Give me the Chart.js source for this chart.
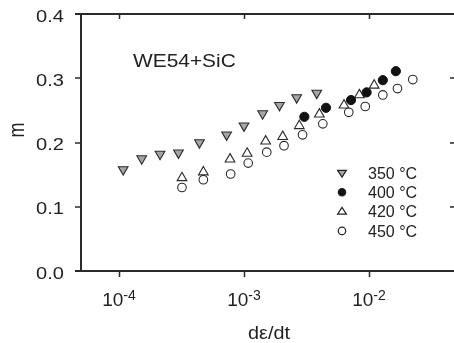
<!DOCTYPE html>
<html>
<head>
<meta charset="utf-8">
<script src="https://cdn.jsdelivr.net/npm/chart.js@4.4.1/dist/chart.umd.min.js"></script>
<style>
  html, body { margin: 0; padding: 0; background: #fff; }
  #wrap { width: 454px; height: 343px; }
</style>
</head>
<body>
<div id="wrap"><canvas id="grafico" width="454" height="343"></canvas></div>
<script>
// Data (strain rate, strain rate sensitivity m)
const rate350 = [1.08e-4, 1.52e-4, 2.13e-4, 2.99e-4, 4.40e-4, 7.26e-4, 1.00e-3, 1.41e-3, 1.92e-3, 2.64e-3, 3.82e-3];
const m350 = [0.158, 0.175, 0.182, 0.184, 0.200, 0.212, 0.226, 0.245, 0.258, 0.270, 0.277];

const rate400 = [3.04e-3, 4.53e-3, 7.18e-3, 9.57e-3, 1.29e-2, 1.64e-2];
const m400 = [0.240, 0.254, 0.266, 0.278, 0.297, 0.311];

const rate420 = [3.19e-4, 4.73e-4, 7.73e-4, 1.06e-3, 1.49e-3, 2.04e-3, 2.77e-3, 4.01e-3, 6.31e-3, 8.38e-3, 1.10e-2];
const m420 = [0.145, 0.154, 0.174, 0.183, 0.202, 0.209, 0.226, 0.244, 0.258, 0.274, 0.289];

const rate450 = [3.19e-4, 4.73e-4, 7.82e-4, 1.08e-3, 1.52e-3, 2.09e-3, 2.94e-3, 4.27e-3, 6.89e-3, 9.33e-3, 1.29e-2, 1.69e-2, 2.24e-2];
const m450 = [0.130, 0.142, 0.151, 0.168, 0.185, 0.195, 0.212, 0.229, 0.247, 0.256, 0.274, 0.284, 0.298];

const labels = ['350 °C', '400 °C', '420 °C', '450 °C'];

// Axis ticks
const xTicks = [1e-4, 1e-3, 1e-2];
const xExp = ['-4', '-3', '-2'];
const yTicks = [0, 0.1, 0.2, 0.3, 0.4];
const yLabels = ['0.0', '0.1', '0.2', '0.3', '0.4'];

const ctx = document.getElementById('grafico').getContext('2d');
const ink = '#222';

function pares(xs, ys) {
  return xs.map((x, i) => ({ x: x, y: ys[i] }));
}

// text with a slight horizontal stretch, like the scanned figure
function texto(c, s, x, y, font, sx, align) {
  c.save();
  c.translate(x, y);
  c.scale(sx, 1);
  c.font = font;
  c.textAlign = align;
  c.textBaseline = 'alphabetic';
  c.fillStyle = ink;
  c.fillText(s, 0, 0);
  c.restore();
}

function simbolo(c, tipo, x, y, fill) {
  c.save();
  c.fillStyle = fill;
  c.strokeStyle = '#222';
  c.lineWidth = 1.2;
  c.beginPath();
  if (tipo === 'down') {
    c.moveTo(x - 4.4, y - 2.6); c.lineTo(x + 4.4, y - 2.6); c.lineTo(x, y + 4.2); c.closePath();
  } else if (tipo === 'up') {
    c.moveTo(x - 4.4, y + 2.6); c.lineTo(x + 4.4, y + 2.6); c.lineTo(x, y - 4.2); c.closePath();
  } else {
    c.arc(x, y, 3.7, 0, Math.PI * 2);
  }
  c.fill();
  c.stroke();
  c.restore();
}

const eixos = {
  id: 'eixos',
  beforeDatasetsDraw(chart) {
    const c = chart.ctx;
    const a = chart.chartArea;
    const sx = chart.scales.x;
    const sy = chart.scales.y;
    c.save();
    c.strokeStyle = '#2a2a2a';
    c.lineWidth = 2;
    c.beginPath();
    // left axis
    c.moveTo(a.left, a.top); c.lineTo(a.left, a.bottom);
    // bottom and top lines
    c.moveTo(a.left - 6, a.bottom); c.lineTo(a.right, a.bottom);
    c.moveTo(a.left - 6, a.top); c.lineTo(a.right, a.top);
    c.stroke();
    c.lineWidth = 1.5;
    c.beginPath();
    yTicks.forEach(v => {
      const py = Math.round(sy.getPixelForValue(v));
      c.moveTo(a.left - 6, py); c.lineTo(a.left, py);
      if (v > 0 && v < 0.4) { c.moveTo(a.right - 4, py); c.lineTo(a.right, py); }
    });
    xTicks.forEach(v => {
      const px = Math.round(sx.getPixelForValue(v)) + 0.5;
      c.moveTo(px, a.bottom); c.lineTo(px, a.bottom + 6);
      c.moveTo(px, a.top); c.lineTo(px, a.top + 5);
    });
    c.stroke();
    c.restore();
  },
  afterDraw(chart) {
    const c = chart.ctx;
    const sx = chart.scales.x;
    const sy = chart.scales.y;

    // y tick labels
    yTicks.forEach((v, i) => {
      texto(c, yLabels[i], 64, sy.getPixelForValue(v) + 7.6, '17px "Liberation Sans", Arial, sans-serif', 1.18, 'right');
    });

    // x tick labels as 10^n
    xTicks.forEach((v, i) => {
      const px = sx.getPixelForValue(v);
      c.save();
      c.font = '19px "Liberation Sans", Arial, sans-serif';
      const w1 = c.measureText('10').width;
      c.font = '14px "Liberation Sans", Arial, sans-serif';
      const w2 = c.measureText(xExp[i]).width;
      c.restore();
      const x0 = px - (w1 + w2) / 2;
      texto(c, '10', x0, 306, '19px "Liberation Sans", Arial, sans-serif', 1, 'left');
      texto(c, xExp[i], x0 + w1, 300, '14px "Liberation Sans", Arial, sans-serif', 1, 'left');
    });

    // axis titles
    texto(c, 'dε/dt', 269, 339, '18px "Liberation Sans", Arial, sans-serif', 1.1, 'center');
    c.save();
    c.translate(17.5, 130);
    c.rotate(-Math.PI / 2);
    c.scale(1, 1.25);
    c.font = '18px "Liberation Sans", Arial, sans-serif';
    c.textAlign = 'center';
    c.textBaseline = 'middle';
    c.fillStyle = ink;
    c.fillText('m', 0, 0);
    c.restore();

    // sample name
    texto(c, 'WE54+SiC', 133, 66.5, '19px "Liberation Sans", Arial, sans-serif', 1.1, 'left');

    // legend
    const tipos = ['down', 'dot', 'up', 'dot'];
    const fills = ['#a6a6a6', '#111', '#fff', '#fff'];
    labels.forEach((lab, i) => {
      const y = 173 + i * 19.3;
      simbolo(c, tipos[i], 342, y, fills[i]);
      texto(c, lab, 368, y + 5.7, '16px "Liberation Sans", Arial, sans-serif', 1, 'left');
    });
  }
};

const grafico = new Chart(ctx, {
  type: 'scatter',
  data: {
    datasets: [
      {
        label: labels[0], data: pares(rate350, m350),
        pointStyle: 'triangle', rotation: 180, pointRadius: 5.6,
        backgroundColor: '#a6a6a6', borderColor: '#2a2a2a', borderWidth: 1.1
      },
      {
        label: labels[1], data: pares(rate400, m400),
        pointStyle: 'circle', pointRadius: 4.6,
        backgroundColor: '#111', borderColor: '#111', borderWidth: 1
      },
      {
        label: labels[2], data: pares(rate420, m420),
        pointStyle: 'triangle', rotation: 0, pointRadius: 5.6,
        backgroundColor: '#fff', borderColor: '#2a2a2a', borderWidth: 1.1
      },
      {
        label: labels[3], data: pares(rate450, m450),
        pointStyle: 'circle', pointRadius: 4.3,
        backgroundColor: '#fff', borderColor: '#2a2a2a', borderWidth: 1.1
      }
    ]
  },
  options: {
    responsive: false,
    animation: false,
    clip: false,
    layout: { autoPadding: false, padding: { left: 81, top: 14, right: 0, bottom: 72 } },
    scales: {
      x: { type: 'logarithmic', min: Math.pow(10, -4.304), max: Math.pow(10, -1.32), display: false },
      y: { min: 0, max: 0.4, display: false }
    },
    plugins: {
      legend: { display: false },
      tooltip: { enabled: false }
    }
  },
  plugins: [eixos]
});
</script>
</body>
</html>
